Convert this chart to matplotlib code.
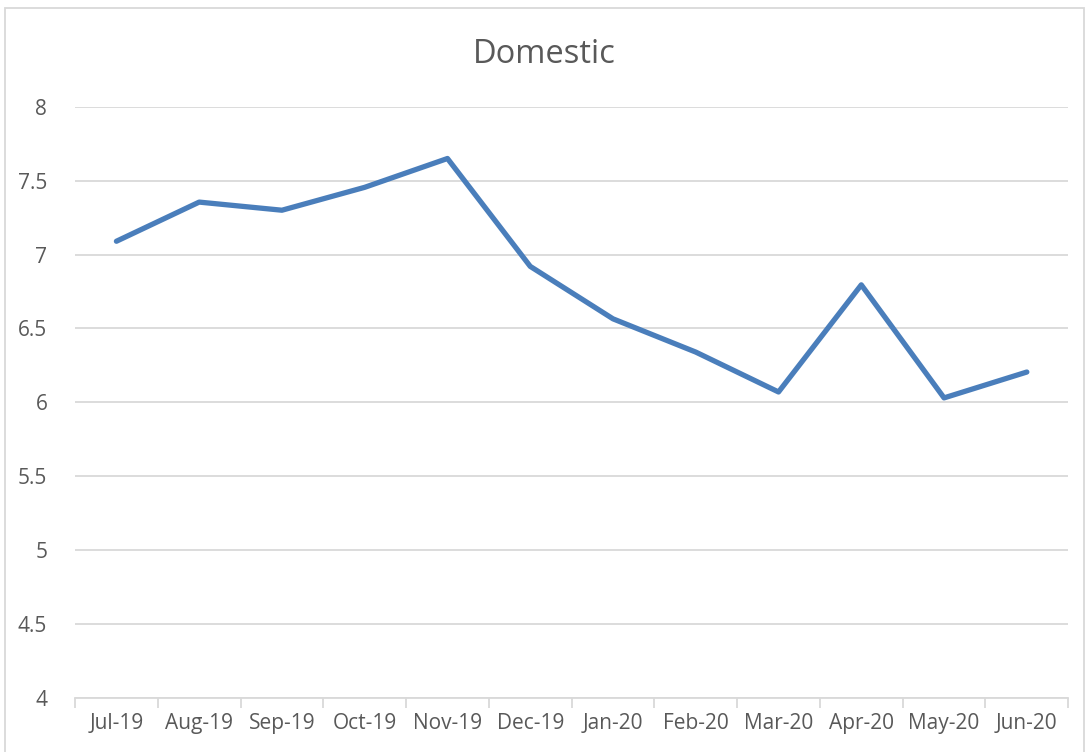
import numpy as np
import matplotlib.pyplot as plt
from matplotlib.patches import Rectangle

plt.rcParams['font.family'] = ['Open Sans', 'DejaVu Sans']

months = ['Jul-19', 'Aug-19', 'Sep-19', 'Oct-19', 'Nov-19', 'Dec-19',
          'Jan-20', 'Feb-20', 'Mar-20', 'Apr-20', 'May-20', 'Jun-20']
domestic = [7.09, 7.355, 7.30, 7.455, 7.65, 6.92,
            6.565, 6.34, 6.07, 6.795, 6.03, 6.205]

text_color = '#595959'
grid_color = '#d9d9d9'

fig = plt.figure(figsize=(10.89, 7.52), dpi=100)
ax = fig.add_axes([0.0689, 0.072, 0.912, 0.786])

x = np.arange(len(months))
ax.plot(x, domestic, color='#4a7ebb', linewidth=3.8, solid_capstyle='round',
        solid_joinstyle='round', zorder=3)

ax.set_xlim(-0.5, len(months) - 0.5)
ax.set_ylim(4, 8)
ax.set_yticks(np.arange(4, 8.01, 0.5))
ax.set_yticklabels(['4', '4.5', '5', '5.5', '6', '6.5', '7', '7.5', '8'])
ax.set_xticks(x)
ax.set_xticklabels(months)
ax.set_xticks(np.arange(-0.5, len(months), 1), minor=True)

ax.grid(axis='y', color=grid_color, linewidth=1.3)
ax.set_axisbelow(True)
for side in ['top', 'right', 'left']:
    ax.spines[side].set_visible(False)
ax.spines['bottom'].set_color(grid_color)
ax.spines['bottom'].set_linewidth(1.3)

ax.tick_params(axis='y', length=0, pad=20, labelsize=15, labelcolor=text_color)
ax.tick_params(axis='x', which='major', length=0, pad=11, labelsize=15, labelcolor=text_color)
ax.tick_params(axis='x', which='minor', length=7, width=1.3, color=grid_color)

fig.text(0.5, 0.928, 'Domestic', ha='center', va='center', fontsize=23.5, color=text_color)

fig.patches.append(Rectangle((5 / 1089, -0.05), 1079 / 1089, 1.05 - 8 / 752,
                             transform=fig.transFigure, fill=False,
                             edgecolor=grid_color, linewidth=1.3))

plt.savefig('out.png', dpi=100)
